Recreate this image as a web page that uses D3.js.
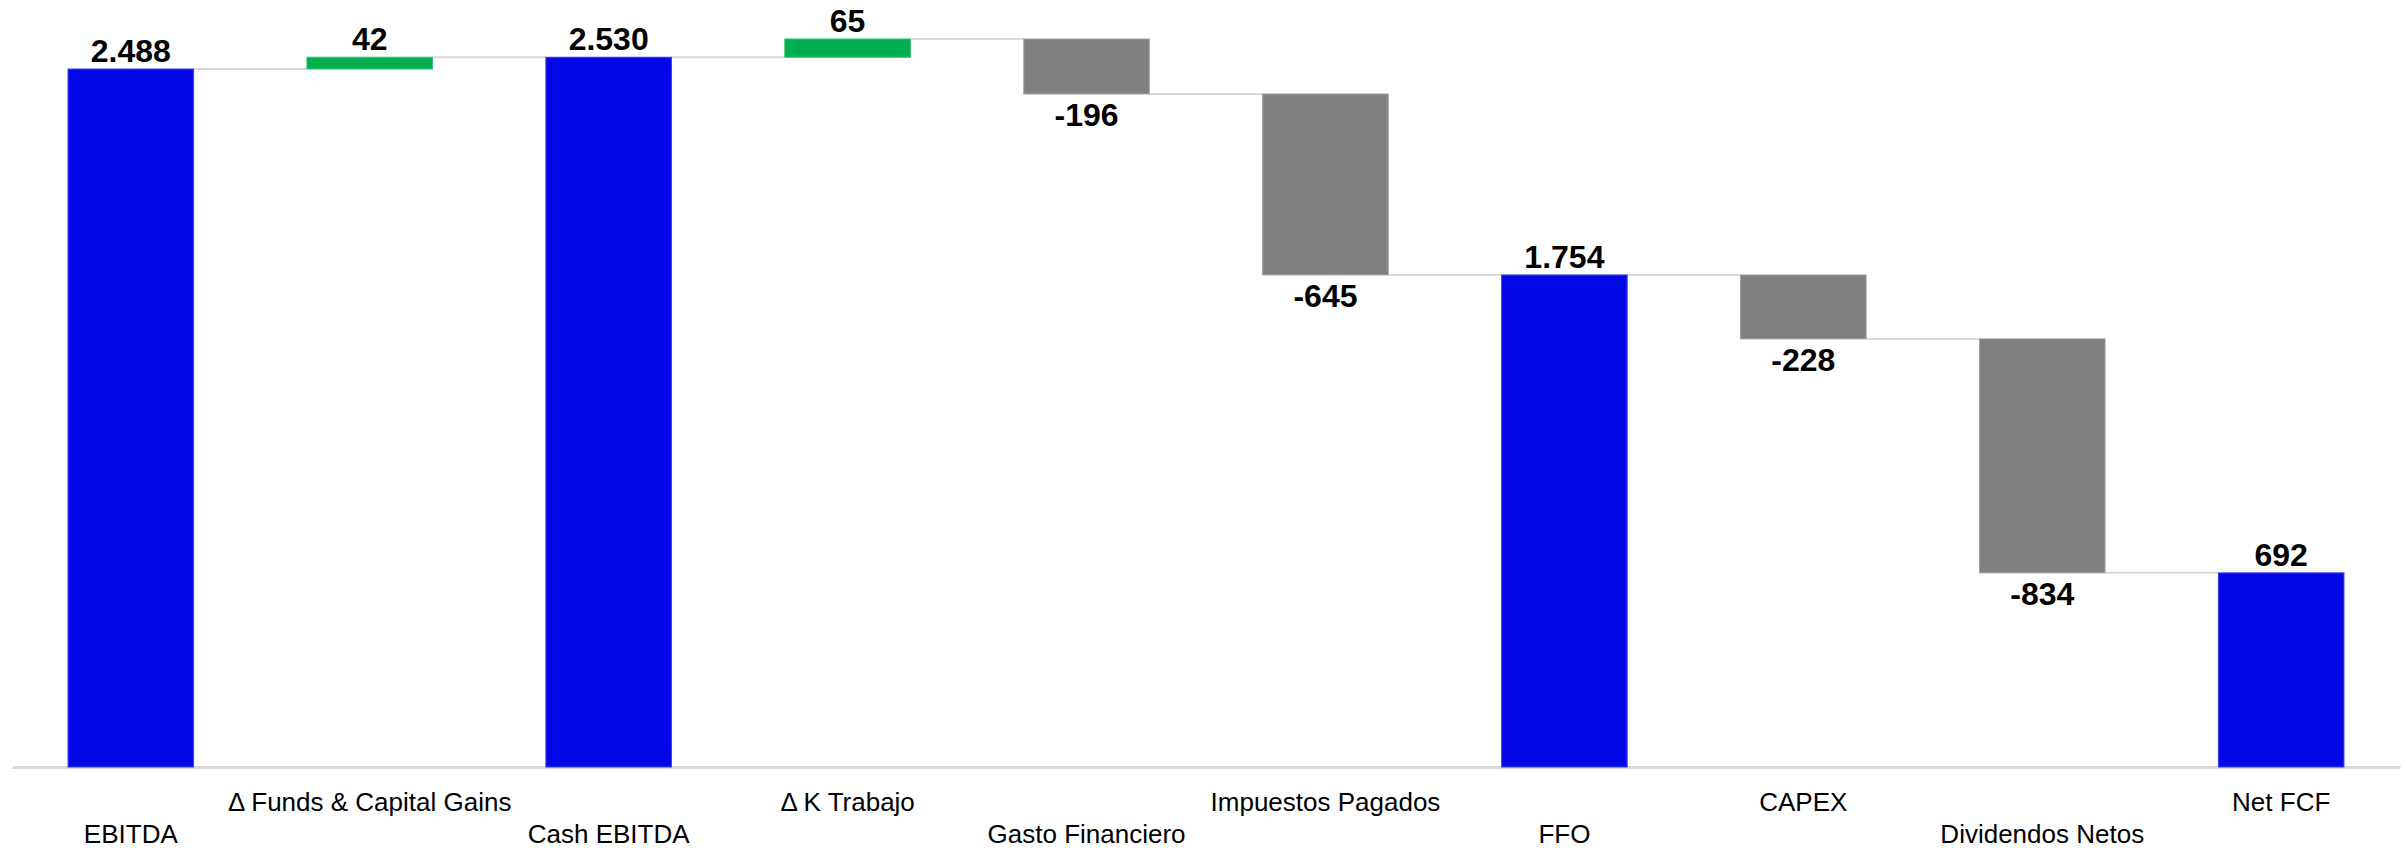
<!DOCTYPE html>
<html>
<head>
<meta charset="utf-8">
<script src="https://cdn.jsdelivr.net/npm/d3@7"></script>
<style>
  html, body { margin: 0; padding: 0; background: #ffffff; }
  svg { display: block; }
</style>
</head>
<body>
<svg id="chart" width="2405" height="850"></svg>
<script>
// ---- data ----
const categories = ["EBITDA", "\u0394 Funds & Capital Gains", "Cash EBITDA", "\u0394 K Trabajo",
  "Gasto Financiero", "Impuestos Pagados", "FFO", "CAPEX", "Dividendos Netos", "Net FCF"];
const values = [2488, 42, 2530, 65, -196, -645, 1754, -228, -834, 692];
const kinds = ["total", "delta", "total", "delta", "delta", "delta", "total", "delta", "delta", "total"];

// ---- layout ----
const baseY = 767;
const svg = d3.select("#chart");

const locale = d3.formatLocale({ decimal: ",", thousands: ".", grouping: [3], currency: ["", "€"], minus: "-" });
const fmt = locale.format(",d");

// compute waterfall segments
let running = 0;
const rows = categories.map((c, i) => {
  const v = values[i];
  let start, end;
  if (kinds[i] === "total") { start = 0; end = v; running = v; }
  else { start = running; end = running + v; running = end; }
  return { cat: c, v, kind: kinds[i], start, end, i };
});

const x = d3.scaleBand().domain(categories).range([12, 2400])
  .paddingInner(0.4745).paddingOuter(0.2345);
const yMax = d3.max(rows, d => Math.max(d.start, d.end));
const y = d3.scaleLinear().domain([0, yMax]).range([baseY, 39]);

const colorOf = d => d.kind === "total" ? "#0309e6" : (d.v >= 0 ? "#00b050" : "#808080");
const strokeOf = d => d.kind === "total" ? "#3a40f0" : (d.v >= 0 ? "#33c070" : "#a0a0a0");

// connectors
const conn = rows.slice(0, -1).map((d, i) => ({ from: d, to: rows[i + 1] }));
svg.append("g").selectAll("line").data(conn).join("line")
  .attr("x1", d => x(d.from.cat) + x.bandwidth())
  .attr("x2", d => x(d.to.cat))
  .attr("y1", d => y(d.from.end))
  .attr("y2", d => y(d.from.end))
  .attr("stroke", "#d9d9d9").attr("stroke-width", 2);

// axis
const axis = d3.axisBottom(x).tickSize(0).tickPadding(0);
const gAxis = svg.append("g").attr("transform", `translate(0,${baseY})`).call(axis);
gAxis.select(".domain").attr("stroke", "#d9d9d9").attr("stroke-width", 3);
gAxis.selectAll(".tick text")
  .attr("font-family", "'Liberation Sans', Arial, sans-serif")
  .attr("font-size", 26)
  .attr("fill", "#000")
  .attr("dy", null)
  .attr("y", (d, i) => i % 2 === 1 ? 44 : 76);

// bars
svg.append("g").selectAll("rect").data(rows).join("rect")
  .attr("x", d => x(d.cat))
  .attr("width", x.bandwidth())
  .attr("y", d => y(Math.max(d.start, d.end)))
  .attr("height", d => Math.abs(y(d.start) - y(d.end)))
  .attr("fill", colorOf)
  .attr("stroke", strokeOf)
  .attr("stroke-width", 1);

// value labels
svg.append("g").selectAll("text").data(rows).join("text")
  .attr("x", d => x(d.cat) + x.bandwidth() / 2)
  .attr("y", d => d.v >= 0 ? y(Math.max(d.start, d.end)) - 7 : y(Math.min(d.start, d.end)) + 32)
  .attr("text-anchor", "middle")
  .attr("font-family", "'Liberation Sans', Arial, sans-serif")
  .attr("font-weight", "bold")
  .attr("font-size", 32)
  .attr("fill", "#000")
  .text(d => fmt(d.v));
</script>
</body>
</html>
